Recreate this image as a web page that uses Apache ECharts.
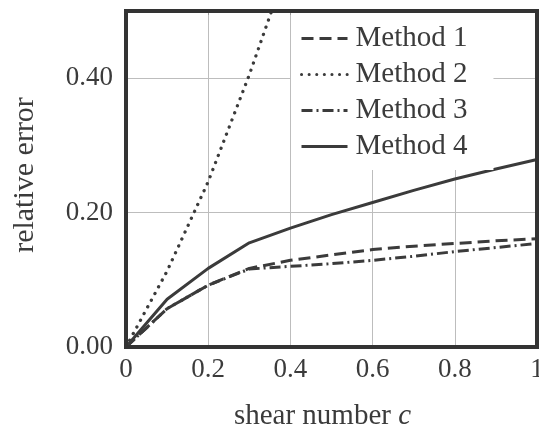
<!DOCTYPE html>
<html>
<head>
<meta charset="utf-8">
<script src="https://cdn.jsdelivr.net/npm/echarts@6/dist/echarts.min.js"></script>
<style>
html, body { margin: 0; padding: 0; background: #fff; }
#chart { width: 539px; height: 426px; }
</style>
</head>
<body>
<div id="chart"></div>
<script>
// shear number c
var shear = [0, 0.1, 0.2, 0.3, 0.4, 0.5, 0.6, 0.7, 0.8, 0.9, 1.0];
var method1 = [0, 0.057, 0.092, 0.117, 0.129, 0.137, 0.145, 0.150, 0.154, 0.158, 0.161];
var method2 = [0, 0.113, 0.246, 0.405, 0.58];
var method3 = [0, 0.057, 0.092, 0.116, 0.120, 0.124, 0.129, 0.135, 0.142, 0.148, 0.154];
var method4 = [0, 0.071, 0.117, 0.155, 0.177, 0.197, 0.215, 0.233, 0.250, 0.265, 0.279];
var names = ['Method 1', 'Method 2', 'Method 3', 'Method 4'];

var myChart = echarts.init(document.getElementById('chart'));
var font = 'Liberation Serif';
var ink = '#3b3b3b';

function pairs(ys) {
	return ys.map(function (y, i) { return [shear[i], y]; });
}

function line(name, ys, type, extra) {
	var s = {
		name: name,
		type: 'line',
		data: pairs(ys),
		symbol: 'none',
		clip: true,
		lineStyle: { color: ink, width: 3, type: type },
		itemStyle: { color: ink }
	};
	if (extra) Object.assign(s.lineStyle, extra);
	return s;
}

myChart.setOption({
	animation: false,
	textStyle: { fontFamily: font },
	grid: {
		left: 126, right: 2, top: 11, bottom: 79,
		containLabel: false, outerBoundsMode: 'none',
		show: true, borderColor: '#333', borderWidth: 4, z: 5
	},
	legend: {
		orient: 'vertical',
		left: 291, top: 13,
		padding: [11, 26, 9, 9],
		itemGap: 7,
		itemWidth: 46,
		itemHeight: 14,
		backgroundColor: '#fff',
		itemStyle: { opacity: 0 },
		lineStyle: { width: 3 },
		textStyle: { fontFamily: font, fontSize: 29, color: ink, lineHeight: 29, padding: [0, 0, 0, 3] },
		data: names
	},
	xAxis: [{
		type: 'value', min: 0, max: 1, interval: 0.2,
		name: '{a|shear number }{b|c}',
		nameLocation: 'middle', nameGap: 55,
		nameTextStyle: {
			padding: [0, 18, 0, 0],
			rich: {
				a: { fontFamily: font, fontSize: 29, color: ink },
				b: { fontFamily: font, fontSize: 29, color: ink, fontStyle: 'italic' }
			}
		},
		axisLine: { show: false },
		axisTick: { show: false },
		axisLabel: { fontFamily: font, fontSize: 27, color: ink, margin: 9 },
		splitLine: { show: true, lineStyle: { color: '#bdbdbd', width: 1 } }
	}, {
		type: 'value', min: 0, max: 1, interval: 0.2, position: 'top',
		axisLine: { show: false },
		axisTick: { show: true, inside: true, length: 4, lineStyle: { color: '#999' } },
		axisLabel: { show: false },
		splitLine: { show: false }
	}],
	yAxis: {
		type: 'value', min: 0, max: 0.5, interval: 0.2,
		name: 'relative error',
		nameLocation: 'middle', nameGap: 86,
		nameTextStyle: { fontFamily: font, fontSize: 30, color: ink, padding: [0, 0, 0, 8] },
		axisLine: { show: false },
		axisTick: { show: false },
		axisLabel: {
			fontFamily: font, fontSize: 27, color: ink, margin: 13,
			showMaxLabel: false,
			formatter: function (v) { return v.toFixed(2); }
		},
		splitLine: { show: true, lineStyle: { color: '#bdbdbd', width: 1 } }
	},
	series: [
		line('Method 1', method1, [12, 6]),
		line('Method 2', method2, [0.1, 7.5], { cap: 'round', width: 3.3 }),
		line('Method 3', method3, [11, 4, 2, 4]),
		line('Method 4', method4, 'solid')
	]
});

window.addEventListener('resize', function () {
	myChart.resize();
});
</script>
</body>
</html>
